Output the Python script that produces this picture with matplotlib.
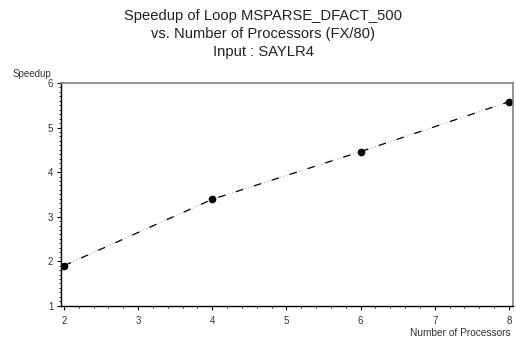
import numpy as np
import matplotlib.pyplot as plt
from matplotlib.ticker import MultipleLocator

plt.rcParams['font.family'] = ['Liberation Sans', 'DejaVu Sans']

# data
processors = [2, 4, 6, 8]
speedup = [1.90, 3.39, 4.46, 5.58]

title_lines = [
    "Speedup of Loop MSPARSE_DFACT_500",
    "vs. Number of Processors (FX/80)",
    "Input : SAYLR4",
]

fig = plt.figure(figsize=(5.16, 3.43), dpi=100)
ax = fig.add_axes([61/516, 1 - 306/343, 452/516, 223/343])

# faint dotted base line, then dark dashes on top
ax.plot(processors, speedup, color="#b0b0b0", linestyle=(0, (1, 2)), linewidth=0.8)
ax.plot(processors, speedup, color="black", linestyle=(0, (6, 9)), linewidth=0.9)
ax.plot(processors, speedup, "o", color="black", markersize=4.5)

ax.set_xlim(1.96, 8.054)
ax.set_ylim(0.995, 6.0)
ax.xaxis.set_minor_locator(MultipleLocator(0.2))
ax.yaxis.set_minor_locator(MultipleLocator(0.1))
ax.set_xticks(range(2, 9))
ax.set_yticks(range(1, 7))

ax.tick_params(axis="both", which="major", direction="out", length=3, width=0.8,
               labelsize=7, colors="black", labelcolor="#333333")
ax.tick_params(axis="x", which="major", pad=4.5)
ax.tick_params(axis="y", which="major", pad=2.5)
ax.tick_params(axis="both", which="minor", direction="out", length=1.5, width=0.6)

for side in ["top", "right"]:
    ax.spines[side].set_color("#808080")
    ax.spines[side].set_linewidth(1.2)
for side in ["left", "bottom"]:
    ax.spines[side].set_color("black")
    ax.spines[side].set_linewidth(1.0)

fig.text(13/516, 1 - 74/343, "Speedup", fontsize=7, color="#333333", va="center", ha="left")
fig.text(511/516, 1 - 333/343, "Number of Processors", fontsize=7.3, color="#333333",
         va="center", ha="right")

for i, line in enumerate(title_lines):
    fig.text(263/516, 1 - (16 + 18*i)/343, line, fontsize=10.6, color="#222222",
             ha="center", va="center")

fig.savefig("out.png", dpi=100)
